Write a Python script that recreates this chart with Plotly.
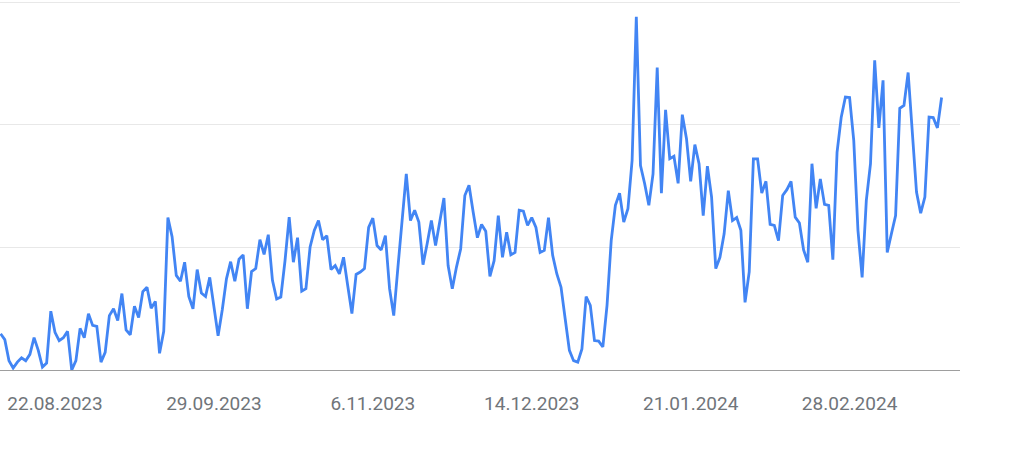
import datetime as dt
import plotly.graph_objects as go

start_date = dt.date(2023, 8, 9)

values = [
    7.4, 6.2, 1.9, 0.4, 1.6, 2.5, 1.9, 3.2, 6.6, 4.0,
    0.6, 1.4, 12.0, 7.7, 6.0, 6.6, 7.9, 0.0, 1.9, 8.5,
    6.6, 11.5, 9.1, 8.9, 1.6, 3.6, 11.1, 12.5, 10.1, 15.6,
    8.2, 7.2, 13.0, 10.7, 16.0, 16.9, 12.6, 14.0, 3.4, 7.9,
    31.1, 27.2, 19.3, 18.1, 22.0, 15.0, 12.5, 20.5, 15.7, 15.0,
    18.9, 13.0, 7.0, 12.3, 18.6, 22.1, 18.1, 22.6, 23.5, 12.5,
    20.1, 20.7, 26.6, 23.6, 27.6, 18.3, 14.5, 14.9, 22.3, 31.2,
    22.0, 27.0, 16.1, 16.6, 25.1, 28.5, 30.5, 26.6, 27.4, 20.5,
    21.3, 19.6, 23.0, 17.2, 11.5, 19.5, 20.0, 20.7, 29.1, 31.0,
    25.4, 24.5, 27.4, 16.6, 11.1, 21.0, 30.2, 40.0, 30.5, 32.6,
    30.2, 21.5, 25.8, 30.5, 25.4, 30.5, 35.1, 21.3, 16.6, 21.0,
    24.7, 35.6, 37.7, 32.2, 27.0, 29.7, 28.3, 19.1, 22.3, 31.5,
    23.0, 28.1, 23.5, 24.0, 32.6, 32.4, 29.5, 31.1, 29.1, 24.0,
    24.4, 31.1, 23.4, 19.6, 16.9, 10.4, 4.0, 1.9, 1.6, 4.3,
    15.0, 13.2, 6.0, 5.9, 4.7, 13.2, 26.4, 33.6, 36.1, 30.2,
    32.9, 42.8, 72.1, 41.7, 38.0, 33.6, 40.0, 61.7, 36.1, 53.1,
    43.1, 43.6, 38.1, 52.1, 47.2, 38.5, 46.0, 42.1, 31.5, 41.6,
    35.3, 20.7, 23.0, 27.8, 36.6, 30.5, 31.1, 28.5, 13.8, 20.0,
    43.1, 43.1, 36.1, 38.5, 29.7, 29.5, 26.4, 35.6, 36.8, 38.5,
    31.2, 30.0, 24.5, 22.0, 42.1, 33.0, 39.0, 33.8, 33.6, 22.5,
    44.4, 51.6, 55.7, 55.6, 46.8, 28.5, 18.9, 34.6, 42.1, 63.2,
    49.4, 59.1, 24.0, 27.8, 31.5, 53.4, 54.0, 60.7, 48.9, 36.3,
    32.0, 35.3, 51.6, 51.5, 49.4, 55.6,
]
dates = [start_date + dt.timedelta(days=i) for i in range(len(values))]

tick_dates = ["2023-08-22", "2023-09-29", "2023-11-06", "2023-12-14", "2024-01-21", "2024-02-28"]
tick_labels = ["22.08.2023", "29.09.2023", "6.11.2023", "14.12.2023", "21.01.2024", "28.02.2024"]
y_grid = [0, 25, 50, 75]

fig = go.Figure()
fig.add_trace(go.Scatter(
    x=dates, y=values, mode="lines",
    line=dict(color="#4285f4", width=2.8),
    hoverinfo="skip",
))

fig.update_layout(
    width=1014, height=451,
    margin=dict(l=0, r=54, t=1, b=81),
    paper_bgcolor="white", plot_bgcolor="white",
    showlegend=False,
    font=dict(family="Roboto, Arial, sans-serif", color="#70757a"),
    xaxis=dict(
        range=["2023-08-08 20:24", "2024-03-25 09:36"],
        tickvals=tick_dates, ticktext=tick_labels,
        tickfont=dict(size=19, color="#70757a"),
        showgrid=False, zeroline=False,
        showline=True, linecolor="#9e9e9e", linewidth=1,
        ticks="", ticklabelstandoff=16,
    ),
    yaxis=dict(
        range=[0, 75.3], tickvals=y_grid, showticklabels=False,
        showgrid=True, gridcolor="#e8e8e8", gridwidth=1,
        zeroline=False, showline=False, ticks="",
    ),
)

fig.write_html(
    "out.html",
    config={"displayModeBar": False},
    post_script="document.body.style.margin='0';document.body.style.padding='0';",
)
